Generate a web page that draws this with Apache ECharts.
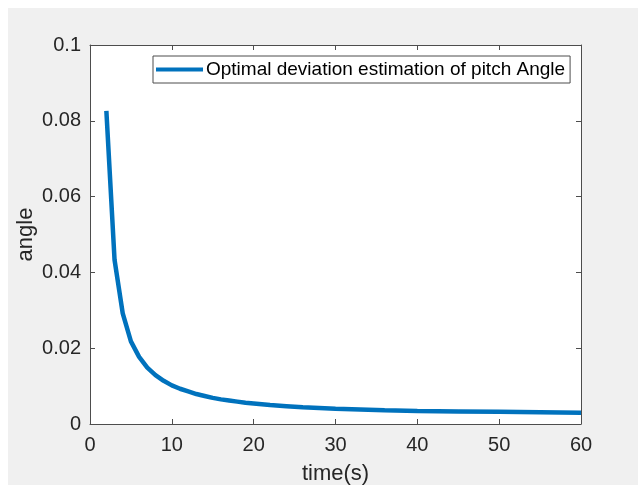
<!DOCTYPE html>
<html><head><meta charset="utf-8">
<script src="https://cdn.jsdelivr.net/npm/echarts@6/dist/echarts.min.js"></script>
<style>
html,body{margin:0;padding:0;background:#ffffff;}
#c{position:absolute;left:8px;top:8px;width:630px;height:477px;}
</style></head>
<body><div id="c"></div>
<script>
const seriesName = 'Optimal deviation estimation of pitch Angle';
const timeValues = [2,3,4,5,6,7,8,9,10,11,12,13,14,15,16,17,18,19,20,22,24,26,28,30,33,36,40,45,50,55,60];
const angleValues = [0.0826,0.0433,0.0292,0.0218,0.0177,0.0149,0.0129,0.0114,0.0102,0.0093,0.0086,0.0079,0.0074,0.0069,0.0065,0.0062,0.0059,0.0056,0.0054,0.0050,0.0047,0.0044,0.0042,0.0040,0.0038,0.0036,0.0034,0.0033,0.0032,0.0031,0.0030];
const xTicks = [0,10,20,30,40,50,60];
const yTicks = [0,0.02,0.04,0.06,0.08,0.1];

const font = 'Liberation Sans, Arial, Helvetica, sans-serif';
const axisCol = '#4d4d4d';
const txtCol = '#262626';
const chart = echarts.init(document.getElementById('c'));
const baseAxis = {
  axisLine:{show:true,onZero:false,lineStyle:{color:axisCol,width:1}},
  axisTick:{show:true,inside:true,length:5,lineStyle:{color:axisCol}},
  splitLine:{show:false}
};
chart.setOption({
  backgroundColor:'#f0f0f0',
  animation:false,
  grid:{left:82,right:57,top:37,bottom:61,show:true,backgroundColor:'#ffffff',borderWidth:0,
    containLabel:false,outerBoundsMode:'none'},
  legend:{
    data:[seriesName],
    left:145, top:48,
    padding:[4,5,4,3],
    borderColor:axisCol, borderWidth:1, backgroundColor:'#ffffff',
    itemWidth:47, itemHeight:4, icon:'rect', itemGap:6,
    textStyle:{fontFamily:font,fontSize:19,color:'#000',padding:[0,0,0,-2]}
  },
  xAxis:[
    Object.assign({},baseAxis,{type:'value',min:xTicks[0],max:xTicks[xTicks.length-1],interval:10,position:'bottom',
      name:'time(s)',nameLocation:'middle',nameGap:39,nameMoveOverlap:false,
      nameTextStyle:{fontFamily:font,fontSize:22,color:txtCol},
      axisLabel:{fontFamily:font,fontSize:20,color:txtCol,margin:11}}),
    Object.assign({},baseAxis,{type:'value',min:xTicks[0],max:xTicks[xTicks.length-1],interval:10,position:'top',
      axisLabel:{show:false}})
  ],
  yAxis:[
    Object.assign({},baseAxis,{type:'value',min:yTicks[0],max:yTicks[yTicks.length-1],interval:0.02,position:'left',
      name:'angle',nameLocation:'middle',nameGap:53,nameMoveOverlap:false,
      nameTextStyle:{fontFamily:font,fontSize:22,color:txtCol},
      axisLabel:{fontFamily:font,fontSize:20,color:txtCol,margin:9,
        formatter:v=>String(Math.round(v*100)/100)}}),
    Object.assign({},baseAxis,{type:'value',min:yTicks[0],max:yTicks[yTicks.length-1],interval:0.02,position:'right',
      axisLabel:{show:false}})
  ],
  series:[{
    name:seriesName,type:'line',xAxisIndex:0,yAxisIndex:0,
    data:timeValues.map((t,i)=>[t,angleValues[i]]),
    showSymbol:false,symbol:'none',
    lineStyle:{color:'#0072BD',width:4.5},
    itemStyle:{color:'#0072BD'}
  }]
});
</script></body></html>
